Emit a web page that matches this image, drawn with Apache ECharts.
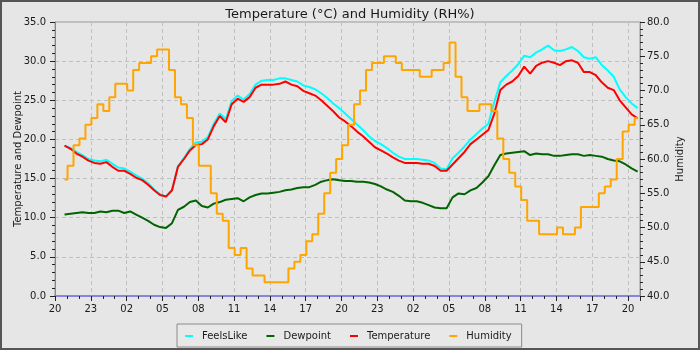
<!DOCTYPE html>
<html>
<head>
<meta charset="UTF-8">
<title>Temperature and Humidity</title>
<script src="https://cdn.jsdelivr.net/npm/echarts@6/dist/echarts.min.js"></script>
<style>
  body { margin: 0; }
  #chart { width: 700px; height: 350px; box-sizing: border-box; border: 2px solid #555; background: #e6e6e6; }
</style>
</head>
<body>
<div id="chart"></div>
<script>
// samples every 30 minutes, hours counted from 20:00 on the first day
var startHour = 0.8;
var stepHour = 0.5;

var feelsLike = [
  19.2, 18.9, 18.4, 18.0, 17.5, 17.3, 17.2, 17.4, 16.9, 16.4,
  16.3, 15.9, 15.4, 15.0, 14.4, 13.6, 13.0, 12.7, 13.5, 16.6,
  17.6, 18.8, 19.6, 19.7, 20.3, 22.0, 23.3, 22.6, 24.9, 25.6,
  25.1, 25.8, 27.0, 27.5, 27.6, 27.6, 27.8, 27.8, 27.6, 27.4,
  26.9, 26.7, 26.4, 25.9, 25.3, 24.6, 24.0, 23.3, 22.6, 21.9,
  21.2, 20.4, 19.8, 19.4, 18.9, 18.3, 17.8, 17.5, 17.5, 17.5,
  17.4, 17.3, 17.0, 16.3, 16.2, 17.6, 18.3, 19.1, 20.0, 20.7,
  21.4, 22.0, 24.8, 27.3, 28.1, 28.8, 29.6, 30.7, 30.5, 31.1,
  31.5, 32.0, 31.4, 31.3, 31.5, 31.8, 31.3, 30.5, 30.3, 30.5,
  29.5, 28.8, 28.0, 26.4, 25.4, 24.6, 24.0
];

var dewpoint = [
  10.4, 10.5, 10.6, 10.7, 10.6, 10.6, 10.8, 10.7, 10.9, 10.9,
  10.6, 10.8, 10.4, 10.0, 9.6, 9.1, 8.8, 8.7, 9.3, 11.0,
  11.4, 12.0, 12.2, 11.5, 11.3, 11.8, 12.0, 12.3, 12.4, 12.5,
  12.1, 12.6, 12.9, 13.1, 13.1, 13.2, 13.3, 13.5, 13.6, 13.8,
  13.9, 13.9, 14.2, 14.6, 14.8, 14.9, 14.8, 14.7, 14.7, 14.6,
  14.6, 14.5, 14.3, 14.0, 13.6, 13.3, 12.8, 12.2, 12.1, 12.1,
  11.9, 11.6, 11.3, 11.2, 11.2, 12.6, 13.1, 13.0, 13.5, 13.8,
  14.5, 15.3, 16.7, 18.0, 18.2, 18.3, 18.4, 18.5, 18.0, 18.2,
  18.1, 18.1, 17.9, 17.9, 18.0, 18.1, 18.1, 17.9, 18.0, 17.9,
  17.8, 17.5, 17.3, 17.2, 16.8, 16.3, 15.9
];

var temperature = [
  19.2, 18.8, 18.2, 17.8, 17.3, 17.0, 16.9, 17.1, 16.5, 16.0,
  16.0, 15.6, 15.1, 14.8, 14.2, 13.5, 12.9, 12.7, 13.5, 16.5,
  17.5, 18.6, 19.3, 19.4, 20.0, 21.7, 23.0, 22.2, 24.5, 25.2,
  24.8, 25.4, 26.6, 27.0, 27.0, 27.0, 27.1, 27.4, 27.0, 26.8,
  26.2, 25.9, 25.6, 25.0, 24.3, 23.6, 22.8, 22.3, 21.7, 21.0,
  20.4, 19.7, 19.0, 18.6, 18.2, 17.7, 17.3, 17.0, 17.0, 17.0,
  16.9, 16.9, 16.6, 16.0, 16.0, 16.8, 17.6, 18.4, 19.4, 20.0,
  20.6, 21.2, 23.3, 26.3, 27.0, 27.4, 28.1, 29.3, 28.4, 29.4,
  29.8, 30.0, 29.8, 29.5, 30.0, 30.1, 29.8, 28.6, 28.6, 28.2,
  27.3, 26.6, 26.3, 25.0, 24.1, 23.2, 22.7
];

var humidity = [
  57, 59, 62, 63, 65, 66, 68, 67, 69, 71,
  71, 70, 73, 74, 74, 75, 76, 76, 73, 69,
  68, 66, 62, 59, 59, 55, 52, 51, 47, 46,
  47, 44, 43, 43, 42, 42, 42, 42, 44, 45,
  46, 48, 49, 52, 55, 58, 60, 62, 65, 68,
  70, 73, 74, 74, 75, 75, 74, 73, 73, 73,
  72, 72, 73, 73, 74, 77, 72, 69, 67, 67,
  68, 68, 67, 63, 60, 58, 56, 54, 51, 51,
  49, 49, 49, 50, 49, 49, 50, 53, 53, 53,
  55, 56, 57, 60, 64, 65, 66
];

var firstHourLabel = 20;

function pairs(values) {
  return values.map(function (v, i) { return [startHour + i * stepHour, v]; });
}

var textColor = '#1a1a1a';
var font = 'DejaVu Sans';

var chart = echarts.init(document.getElementById('chart'));

var option = {
  animation: false,
  backgroundColor: '#e6e6e6',
  textStyle: { fontFamily: font },
  title: {
    text: 'Temperature (°C) and Humidity (RH%)',
    left: 'center',
    top: 1,
    textStyle: { fontFamily: font, fontSize: 13, fontWeight: 'normal', color: textColor }
  },
  grid: {
    left: 53, right: 58, top: 20, bottom: 52,
    outerBoundsMode: 'none', containLabel: false,
    show: true, borderColor: '#999', borderWidth: 1
  },
  legend: {
    left: 175, top: 322,
    padding: [7, 10, 6, 8],
    borderColor: '#8a8a8a', borderWidth: 1,
    backgroundColor: '#e8e8e8',
    icon: 'rect', itemWidth: 8, itemHeight: 2, itemGap: 19,
    textStyle: { fontFamily: font, fontSize: 10, color: textColor, padding: [0, 0, 0, 4] },
    data: ['FeelsLike', 'Dewpoint', 'Temperature', 'Humidity']
  },
  xAxis: {
    type: 'value', min: 0, max: 49, interval: 3,
    axisLine: { lineStyle: { color: '#8585e0', width: 2 } },
    axisTick: { length: 5, lineStyle: { color: '#222' } },
    minorTick: { show: true, splitNumber: 3, length: 3, lineStyle: { color: '#222' } },
    axisLabel: {
      margin: 8, fontSize: 10, color: textColor, fontFamily: font,
      formatter: function (v) {
        var h = (firstHourLabel + v) % 24;
        return (h < 10 ? '0' : '') + h;
      }
    },
    splitLine: { show: true, lineStyle: { color: '#c0c0c0', type: [4, 3] } }
  },
  yAxis: [{
    type: 'value', min: 0, max: 35, interval: 5,
    name: 'Temperature and Dewpoint', nameLocation: 'middle', nameGap: 32, nameRotate: 90,
    nameMoveOverlap: false,
    nameTextStyle: { fontFamily: font, fontSize: 10, color: textColor },
    axisLine: { show: true, lineStyle: { color: '#888' } },
    axisTick: { show: true, length: 5, lineStyle: { color: '#222' } },
    minorTick: { show: true, splitNumber: 5, length: 3, lineStyle: { color: '#222' } },
    axisLabel: { margin: 9, fontSize: 10, color: textColor, fontFamily: font,
      formatter: function (v) { return v.toFixed(1); } },
    splitLine: { show: true, lineStyle: { color: '#c0c0c0', type: [4, 3] } }
  }, {
    type: 'value', min: 40, max: 80, interval: 5, position: 'right',
    name: 'Humidity', nameLocation: 'middle', nameGap: 35, nameRotate: 90,
    nameMoveOverlap: false,
    nameTextStyle: { fontFamily: font, fontSize: 10, color: textColor },
    axisLine: { show: true, lineStyle: { color: '#888' } },
    axisTick: { show: true, length: 5, lineStyle: { color: '#222' } },
    minorTick: { show: true, splitNumber: 5, length: 3, lineStyle: { color: '#222' } },
    axisLabel: { margin: 7, fontSize: 10, color: textColor, fontFamily: font,
      formatter: function (v) { return v.toFixed(1); } },
    splitLine: { show: false }
  }],
  series: [
    { name: 'FeelsLike', type: 'line', showSymbol: false, color: '#00ffff',
      lineStyle: { width: 2 }, data: pairs(feelsLike) },
    { name: 'Dewpoint', type: 'line', showSymbol: false, color: '#006400',
      lineStyle: { width: 2 }, data: pairs(dewpoint) },
    { name: 'Temperature', type: 'line', showSymbol: false, color: '#ff0000',
      lineStyle: { width: 2 }, data: pairs(temperature) },
    { name: 'Humidity', type: 'line', showSymbol: false, color: '#ffa500', yAxisIndex: 1,
      step: 'middle', lineStyle: { width: 2 }, data: pairs(humidity) }
  ]
};

chart.setOption(option);
</script>
</body>
</html>
